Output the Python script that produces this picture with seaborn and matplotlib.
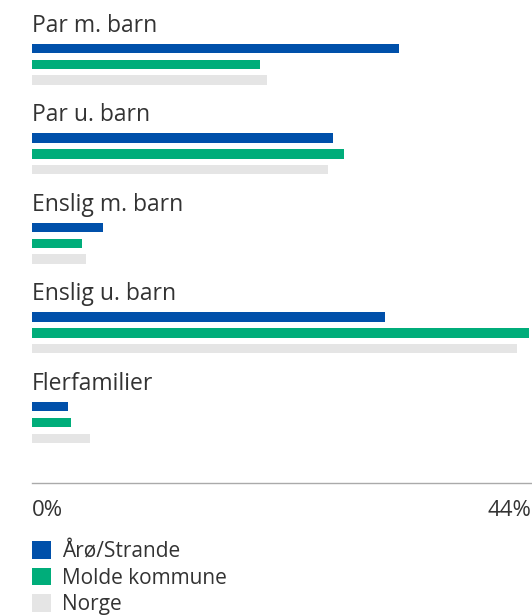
import matplotlib
matplotlib.use("Agg")
import matplotlib.pyplot as plt
import seaborn as sns
import pandas as pd

categories = ["Par m. barn", "Par u. barn", "Enslig m. barn", "Enslig u. barn", "Flerfamilier"]
series = ["Årø/Strande", "Molde kommune", "Norge"]
aro_strande = [32.4, 26.5, 6.3, 31.1, 3.2]
molde = [20.1, 27.5, 4.4, 43.8, 3.4]
norge = [20.7, 26.1, 4.8, 42.8, 5.1]
colors = ["#0050AA", "#00AD7A", "#E5E5E5"]
x_ticks = [0, 44]
x_tick_labels = ["0%", "44%"]

rows = []
for s, vals in zip(series, [aro_strande, molde, norge]):
    for c, v in zip(categories, vals):
        rows.append({"category": c, "series": s, "value": v})
df = pd.DataFrame(rows)

sns.set_theme(style="white")
plt.rcParams["font.family"] = ["Open Sans", "DejaVu Sans"]
text_color = "#333333"

fig = plt.figure(figsize=(5.32, 6.16), dpi=100)
ax = fig.add_axes([32 / 532, 1 - 483 / 616, 499 / 532, 483 / 616])

sns.barplot(data=df, x="value", y="category", hue="series", order=categories,
            hue_order=series, palette=colors, orient="h", width=0.528, gap=0.4,
            dodge=True, linewidth=0, saturation=1, ax=ax, legend=True)

ax.set_xlim(0, 44)
ax.set_ylim(4.676, -0.72)
ax.set_yticks([])
ax.set_ylabel("")
ax.set_xlabel("")
for i, c in enumerate(categories):
    ax.text(0, i - 0.363, c, fontsize=16.5, color=text_color, ha="left", va="baseline")

ax.set_xticks(x_ticks)
ax.set_xticklabels(x_tick_labels, fontsize=16, color=text_color)
labels = ax.get_xticklabels()
labels[0].set_horizontalalignment("left")
labels[1].set_horizontalalignment("right")
ax.tick_params(axis="x", length=0, pad=12)

for s in ["top", "right", "left"]:
    ax.spines[s].set_visible(False)
ax.spines["bottom"].set_color("#AAAAAA")
ax.spines["bottom"].set_linewidth(1)

handles, lbls = ax.get_legend_handles_labels()
ax.legend_.remove()
leg = fig.legend(handles, lbls, loc="upper left", bbox_to_anchor=(32 / 532, 1 - 541 / 616),
                 frameon=False, handlelength=0.91, handleheight=0.91,
                 handletextpad=0.55, labelspacing=0.27, borderpad=0, borderaxespad=0,
                 labelcolor=text_color, prop={"size": 15})

fig.savefig("out.png", dpi=100, facecolor="white")
